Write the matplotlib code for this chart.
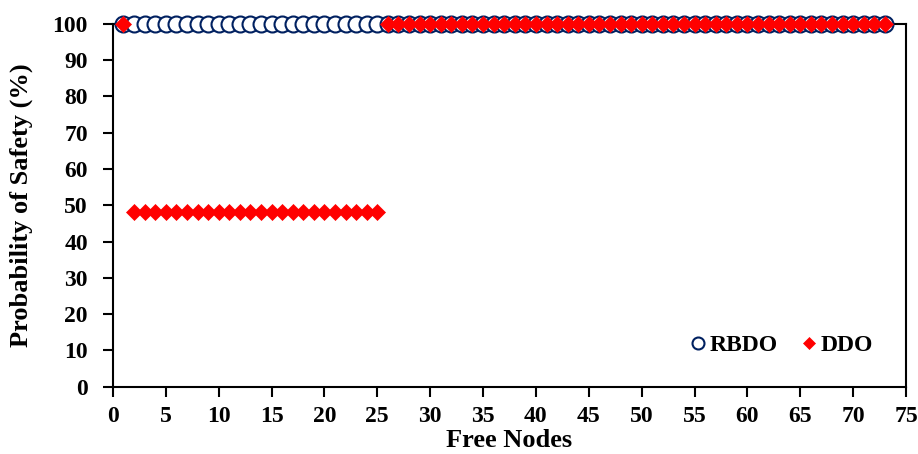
import matplotlib
matplotlib.use("Agg")
import matplotlib.pyplot as plt
import numpy as np

plt.rcParams['font.family'] = ['Liberation Serif', 'DejaVu Serif']
plt.rcParams['font.weight'] = 'bold'

# Free node counts and probability of safety for each method
free_nodes = list(range(1, 74))
rbdo_safety = [100] * 73
ddo_safety = [100] + [48.2] * 24 + [100] * 48

fig = plt.figure(figsize=(9.18, 4.54), dpi=100)
ax = fig.add_axes([0.123, 0.148, 0.864, 0.80])

ax.plot(free_nodes, rbdo_safety, linestyle='none', marker='o', markersize=11.5,
        markerfacecolor='white', markeredgecolor='#002060', markeredgewidth=1.5,
        label='RBDO', clip_on=False, zorder=3)
ax.plot(free_nodes, ddo_safety, linestyle='none', marker='D', markersize=8.5,
        markerfacecolor='#ff0000', markeredgecolor='#ff0000', markeredgewidth=0.5,
        label='DDO', clip_on=False, zorder=4)

ax.set_xlim(0, 75)
ax.set_ylim(0, 100)
ax.set_xticks(np.arange(0, 76, 5))
ax.set_yticks(np.arange(0, 101, 10))
ax.tick_params(axis='both', direction='out', length=7, width=1.5, labelsize=17)
ax.tick_params(axis='x', pad=7)
ax.tick_params(axis='y', pad=11)
for lbl in ax.get_xticklabels() + ax.get_yticklabels():
    lbl.set_fontweight('bold')
for s in ax.spines.values():
    s.set_linewidth(1.5)

ax.set_xlabel('Free Nodes', fontsize=19, fontweight='bold', labelpad=1)
ax.set_ylabel('Probability of Safety (%)', fontsize=19, fontweight='bold', labelpad=14)

leg = ax.legend(loc='lower right', frameon=False, ncol=2,
                handletextpad=-0.1, columnspacing=0.7, markerscale=0.75,
                handlelength=1.2,
                bbox_to_anchor=(0.985, 0.025), prop={'weight': 'bold', 'size': 17})

fig.savefig('out.png', dpi=100)
